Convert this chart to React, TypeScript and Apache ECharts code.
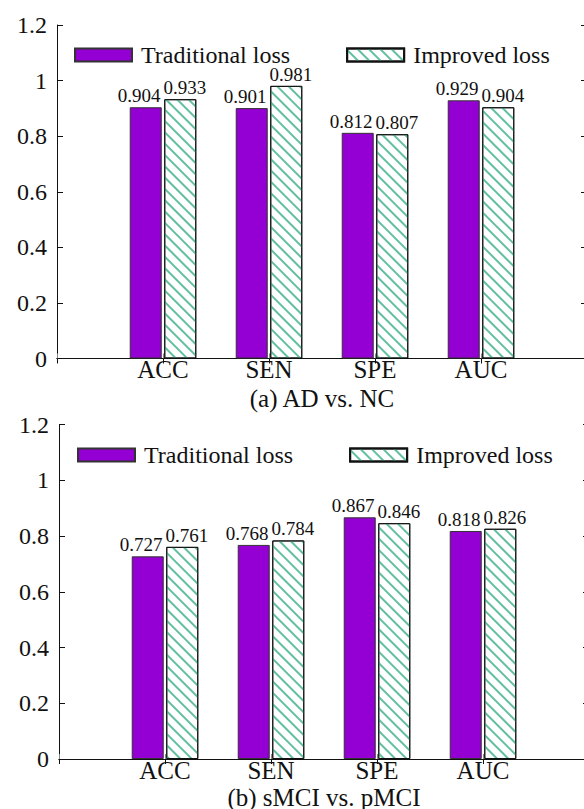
import React, { useEffect, useRef } from "react";
import * as echarts from "echarts";

const categories = ["", "ACC", "SEN", "SPE", "AUC", ""];
const seriesNames = ["Traditional loss", "Improved loss"];
const traditionalA = [0.904, 0.901, 0.812, 0.929];
const improvedA = [0.933, 0.981, 0.807, 0.904];
const traditionalB = [0.727, 0.768, 0.867, 0.818];
const improvedB = [0.761, 0.784, 0.846, 0.826];
const panelTitles = ["(a) AD vs. NC", "(b) sMCI vs. pMCI"];

const FONT = '"Liberation Serif", "Times New Roman", serif';
const PURPLE = "#9400d3";
const TEAL = "#62bf9f";
const INK = "#111";

const pad = (arr: number[]) => ["-", ...arr.map((v) => v), "-"];

export default function App() {
  const ref = useRef<HTMLDivElement>(null);

  useEffect(() => {
    if (!ref.current) return;
    const chart = echarts.init(ref.current, undefined, { renderer: "svg" });

    const panels = [
      { grid: { left: 57, top: 25, width: 530, height: 333.5 }, trad: traditionalA, imp: improvedA, legendLeft: 74, legendTop: 43, titleX: 322, titleY: 398 },
      { grid: { left: 59, top: 424.5, width: 530, height: 334.5 }, trad: traditionalB, imp: improvedB, legendLeft: 77, legendTop: 443, titleX: 324, titleY: 797 },
    ];

    const grid: any[] = [];
    const xAxis: any[] = [];
    const yAxis: any[] = [];
    const series: any[] = [];
    const legend: any[] = [];
    const graphic: any[] = [];

    panels.forEach((p, i) => {
      grid.push({ ...p.grid, outerBoundsMode: "none", containLabel: false });
      xAxis.push({
        type: "category",
        gridIndex: i,
        data: categories,
        boundaryGap: false,
        position: "bottom",
        axisLine: { lineStyle: { color: INK, width: 1 } },
        axisTick: { inside: true, length: 5, lineStyle: { color: "#888" } },
        axisLabel: { fontSize: 25, lineHeight: 20, fontFamily: FONT, color: INK, margin: 1, interval: 0 },
        splitLine: { show: false },
      });
      xAxis.push({
        type: "category",
        gridIndex: i,
        data: categories,
        boundaryGap: false,
        position: "top",
        axisLine: { lineStyle: { color: INK, width: 1 } },
        axisTick: { inside: true, length: 5, lineStyle: { color: INK } },
        axisLabel: { show: false },
        splitLine: { show: false },
      });
      yAxis.push({
        type: "value",
        gridIndex: i,
        min: 0,
        max: 1.2,
        interval: 0.2,
        position: "left",
        axisLine: { show: true, lineStyle: { color: INK, width: 1 } },
        axisTick: { show: true, inside: true, length: 6, lineStyle: { color: INK } },
        axisLabel: { fontSize: 24, fontFamily: FONT, color: INK, margin: 10 },
        splitLine: { show: false },
      });
      yAxis.push({
        type: "value",
        gridIndex: i,
        min: 0,
        max: 1.2,
        interval: 0.2,
        position: "right",
        axisLine: { show: true, lineStyle: { color: INK, width: 1 } },
        axisTick: { show: true, inside: true, length: 6, lineStyle: { color: INK } },
        axisLabel: { show: false },
        splitLine: { show: false },
      });
      series.push({
        type: "bar",
        name: seriesNames[0],
        xAxisIndex: i * 2,
        yAxisIndex: i * 2,
        data: pad(p.trad),
        barWidth: 32,
        barGap: "8%",
        itemStyle: { color: PURPLE, borderColor: "#333", borderWidth: 1 },
        label: {
          show: true,
          position: "top",
          distance: 2,
          offset: [-6.5, 0],
          fontSize: 19,
          fontFamily: FONT,
          color: INK,
          formatter: (d: any) => Number(d.value).toFixed(3),
        },
      });
      series.push({
        type: "bar",
        name: seriesNames[1],
        xAxisIndex: i * 2,
        yAxisIndex: i * 2,
        data: pad(p.imp),
        barWidth: 32,
        barGap: "8%",
        itemStyle: {
          color: "#ffffff",
          borderColor: INK,
          borderWidth: 1,
          decal: {
            symbol: "rect",
            symbolSize: 1,
            color: TEAL,
            backgroundColor: "#ffffff",
            dashArrayX: [1, 0],
            dashArrayY: [2, 6],
            rotation: Math.PI / 4,
          },
        },
        label: {
          show: true,
          position: "top",
          distance: 2,
          offset: [4.5, 0],
          fontSize: 19,
          fontFamily: FONT,
          color: INK,
          formatter: (d: any) => Number(d.value).toFixed(3),
        },
      });
      legend.push({
        data: seriesNames,
        left: p.legendLeft,
        top: p.legendTop,
        padding: 0,
        itemWidth: 57,
        itemHeight: 13,
        itemGap: 56,
        icon: "rect",
        textStyle: { fontSize: 24, fontFamily: FONT, color: INK, padding: [0, 0, 0, 4] },
      });
      graphic.push({
        type: "text",
        x: p.titleX,
        y: p.titleY,
        style: {
          text: panelTitles[i],
          fontSize: 25,
          lineHeight: 20,
          fontFamily: FONT,
          fill: INK,
          align: "center",
          verticalAlign: "middle",
        },
      });
    });

    chart.setOption({
      animation: false,
      backgroundColor: "#ffffff",
      textStyle: { fontFamily: FONT },
      grid,
      xAxis,
      yAxis,
      series,
      legend,
      graphic,
    });

    return () => chart.dispose();
  }, []);

  return (
    <div
      ref={ref}
      style={{ position: "absolute", left: 0, top: 0, width: 584, height: 809 }}
    />
  );
}
